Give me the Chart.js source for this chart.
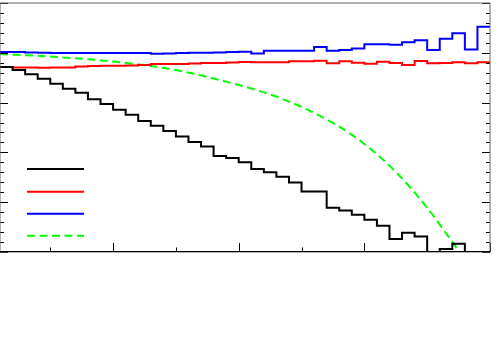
<!DOCTYPE html>
<html>
<head>
<meta charset="utf-8">
<script src="https://cdn.jsdelivr.net/npm/chart.js@4/dist/chart.umd.min.js"></script>
<style>
  html, body { margin: 0; padding: 0; background: #fff; }
  #wrap { width: 500px; height: 353px; position: relative; }
</style>
</head>
<body>
<div id="wrap"><canvas id="c"></canvas></div>
<script>
// Bin edges: 0.1 .. 4.0 in steps of 0.1 (39 bins)
const binLow = [0.1,0.2,0.3,0.4,0.5,0.6,0.7,0.8,0.9,1.0,1.1,1.2,1.3,1.4,1.5,1.6,1.7,1.8,1.9,2.0,
                2.1,2.2,2.3,2.4,2.5,2.6,2.7,2.8,2.9,3.0,3.1,3.2,3.3,3.4,3.5,3.6,3.7,3.8,3.9];
const lastEdge = 4.0;

const blackHist = [3.713,3.653,3.567,3.479,3.379,3.279,3.196,3.066,2.972,2.856,2.756,2.631,2.535,2.431,2.317,2.210,2.116,1.930,1.890,1.804,
                   1.669,1.603,1.509,1.396,1.214,1.214,0.888,0.834,0.747,0.647,0.527,0.261,0.387,0.313,0.0,0.06,0.166,0.0,0.0];
const redHist = [3.713,3.703,3.703,3.699,3.703,3.707,3.727,3.733,3.739,3.739,3.747,3.754,3.774,3.774,3.774,3.784,3.794,3.794,3.804,3.814,
                 3.808,3.808,3.808,3.828,3.828,3.840,3.788,3.828,3.800,3.780,3.820,3.794,3.754,3.834,3.788,3.794,3.808,3.788,3.808];
const blueHist = [4.014,4.014,4.008,4.000,3.994,3.994,3.994,3.994,3.994,3.994,3.994,3.994,3.980,3.988,3.994,4.000,4.000,4.008,4.014,4.020,
                  3.988,4.040,4.040,4.040,4.040,4.114,4.040,4.054,4.088,4.174,4.174,4.160,4.214,4.254,4.054,4.281,4.395,4.064,4.521];

const greenX = [0.1, 0.5, 1.0, 1.5, 2.0, 2.25, 2.5, 2.75, 3.0, 3.25, 3.5, 3.75];
const greenY = [3.974, 3.924, 3.824, 3.653, 3.353, 3.162, 2.912, 2.591, 2.170, 1.609, 0.888, 0.026];

const xMajorTicks = [1, 2, 3, 4];
const xMinorTicks = [0.5, 1.5, 2.5, 3.5];
const yMajorTicks = [0, 1, 2, 3, 4, 5];
const yMinorTicks = [0.2,0.4,0.6,0.8,1.2,1.4,1.6,1.8,2.2,2.4,2.6,2.8,3.2,3.4,3.6,3.8,4.2,4.4,4.6,4.8];

function histPoints(vals) {
  const pts = vals.map((v, i) => ({x: binLow[i], y: v}));
  pts.push({x: lastEdge, y: vals[vals.length - 1]});
  return pts;
}

const framePlugin = {
  id: 'frame',
  afterDatasetsDraw(chart) {
    const {ctx, chartArea: a, scales: {x, y}} = chart;
    ctx.save();
    ctx.strokeStyle = '#000';
    ctx.lineWidth = 1;
    ctx.beginPath();
    xMajorTicks.forEach(v => { const px = Math.round(x.getPixelForValue(v)) + 0.5; ctx.moveTo(px, a.bottom); ctx.lineTo(px, a.bottom - 9); });
    xMinorTicks.forEach(v => { const px = Math.round(x.getPixelForValue(v)) + 0.5; ctx.moveTo(px, a.bottom); ctx.lineTo(px, a.bottom - 4.5); });
    yMajorTicks.forEach(v => { const py = Math.round(y.getPixelForValue(v)) + 0.5;
      ctx.moveTo(a.left, py); ctx.lineTo(a.left + 8, py);
      ctx.moveTo(a.right, py); ctx.lineTo(a.right - 8, py); });
    yMinorTicks.forEach(v => { const py = Math.round(y.getPixelForValue(v)) + 0.5;
      ctx.moveTo(a.left, py); ctx.lineTo(a.left + 4, py);
      ctx.moveTo(a.right, py); ctx.lineTo(a.right - 4, py); });
    ctx.stroke();
    ctx.strokeStyle = '#666';
    ctx.strokeRect(a.left, a.top, a.right - a.left, a.bottom - a.top);
    ctx.strokeStyle = '#000';
    ctx.beginPath();
    ctx.moveTo(a.left, a.bottom - 0.5); ctx.lineTo(a.right, a.bottom - 0.5);
    ctx.stroke();
    const rows = [169, 191.7, 213.7, 235.7];
    chart.data.datasets.forEach((ds, i) => {
      ctx.beginPath();
      ctx.strokeStyle = ds.borderColor;
      ctx.lineWidth = ds.borderWidth;
      ctx.setLineDash(ds.borderDash || []);
      ctx.moveTo(a.left + 27, rows[i]);
      ctx.lineTo(a.left + 84, rows[i]);
      ctx.stroke();
    });
    ctx.restore();
  }
};

new Chart(document.getElementById('c'), {
  type: 'line',
  data: {
    datasets: [
      { label: '', data: histPoints(blackHist), borderColor: '#000000', borderWidth: 2, stepped: 'before', pointRadius: 0, fill: false },
      { label: '', data: histPoints(redHist), borderColor: '#ff0000', borderWidth: 2, stepped: 'before', pointRadius: 0, fill: false },
      { label: '', data: histPoints(blueHist), borderColor: '#0000ff', borderWidth: 2, stepped: 'before', pointRadius: 0, fill: false },
      { label: '', data: greenX.map((v, i) => ({x: v, y: greenY[i]})), borderColor: '#00ff00', borderWidth: 2,
        borderDash: [8, 4.5], cubicInterpolationMode: 'monotone', tension: 0.4, pointRadius: 0, fill: false }
    ]
  },
  options: {
    responsive: true,
    maintainAspectRatio: false,
    animation: false,
    layout: { padding: { left: 0, right: 10, top: 3, bottom: 101 } },
    plugins: { legend: { display: false }, tooltip: { enabled: false } },
    scales: {
      x: { type: 'linear', min: 0.1, max: 4.0, display: false },
      y: { type: 'linear', min: 0, max: 5, display: false }
    }
  },
  plugins: [framePlugin]
});
</script>
</body>
</html>
